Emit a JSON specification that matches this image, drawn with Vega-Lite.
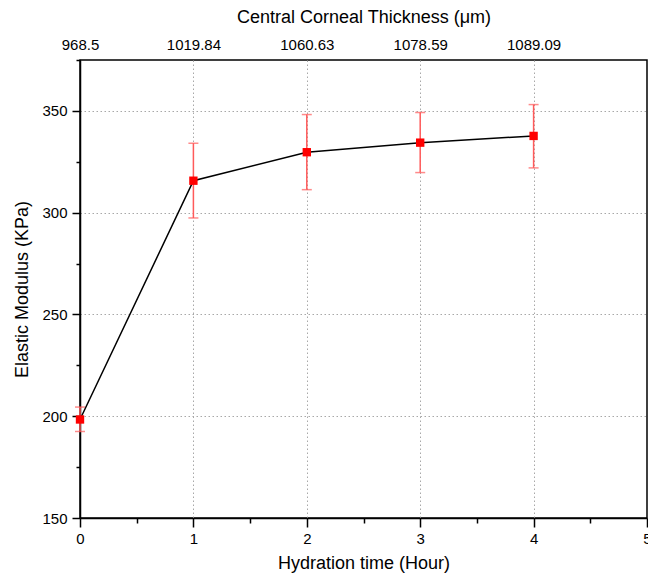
{
  "$schema": "https://vega.github.io/schema/vega-lite/v6.json",
  "width": 567,
  "height": 458,
  "autosize": "none",
  "padding": {"left": 80, "top": 60, "right": 1, "bottom": 63},
  "background": "white",
  "config": {
    "font": "Liberation Sans",
    "view": {"stroke": "black", "strokeWidth": 1.5},
    "axis": {
      "labelFont": "Liberation Sans",
      "titleFont": "Liberation Sans",
      "labelFontSize": 15,
      "titleFontSize": 18,
      "titleFontWeight": "normal",
      "labelColor": "black",
      "titleColor": "black",
      "labelFlush": false,
      "labelOverlap": false,
      "domainColor": "black",
      "domainWidth": 1.5,
      "tickColor": "black",
      "tickWidth": 1.5,
      "gridColor": "#a8a8a8",
      "gridDash": [1.5, 2.5],
      "gridWidth": 1
    }
  },
  "data": {
    "values": [
      {"hour": 0, "thickness": "968.5", "modulus": 198.4, "lo": 192.5, "hi": 204.5},
      {"hour": 1, "thickness": "1019.84", "modulus": 315.7, "lo": 297.4, "hi": 334.1},
      {"hour": 2, "thickness": "1060.63", "modulus": 329.7, "lo": 311.3, "hi": 348.2},
      {"hour": 3, "thickness": "1078.59", "modulus": 334.4, "lo": 319.7, "hi": 349.2},
      {"hour": 4, "thickness": "1089.09", "modulus": 337.7, "lo": 322.0, "hi": 353.1}
    ]
  },
  "resolve": {"axis": {"x": "independent"}},
  "layer": [
    {
      "mark": {"type": "rule", "color": "#ff5a5a", "strokeWidth": 1.5},
      "encoding": {
        "x": {
          "field": "hour", "type": "quantitative",
          "scale": {"domain": [0, 5], "nice": false},
          "axis": {
            "orient": "bottom",
            "title": "Hydration time (Hour)",
            "values": [0, 0.5, 1, 1.5, 2, 2.5, 3, 3.5, 4, 4.5, 5],
            "labelExpr": "datum.value % 1 == 0 ? format(datum.value, 'd') : ''",
            "tickSize": {"condition": {"test": "datum.value % 1 != 0", "value": 5}, "value": 9},
            "gridOpacity": {"condition": {"test": "datum.value % 1 != 0 || datum.value == 0 || datum.value == 5", "value": 0}, "value": 1},
            "labelPadding": 4,
            "titlePadding": 8
          }
        },
        "y": {
          "field": "lo", "type": "quantitative",
          "scale": {"domain": [150, 375], "nice": false, "zero": false},
          "axis": {
            "title": "Elastic Modulus (KPa)",
            "values": [150, 175, 200, 225, 250, 275, 300, 325, 350, 375],
            "labelExpr": "datum.value % 50 == 0 ? datum.label : ''",
            "tickSize": {"condition": {"test": "datum.value % 50 != 0", "value": 4}, "value": 8},
            "gridOpacity": {"condition": {"test": "datum.value % 50 != 0 || datum.value == 150", "value": 0}, "value": 1},
            "labelPadding": 5,
            "titlePadding": 10
          }
        },
        "y2": {"field": "hi"}
      }
    },
    {
      "mark": {"type": "tick", "color": "#ff5a5a", "thickness": 1.5, "size": 10, "orient": "horizontal"},
      "encoding": {
        "x": {"field": "hour", "type": "quantitative", "axis": null},
        "y": {"field": "lo", "type": "quantitative"}
      }
    },
    {
      "mark": {"type": "tick", "color": "#ff5a5a", "thickness": 1.5, "size": 10, "orient": "horizontal"},
      "encoding": {
        "x": {"field": "hour", "type": "quantitative", "axis": null},
        "y": {"field": "hi", "type": "quantitative"}
      }
    },
    {
      "mark": {"type": "line", "color": "black", "strokeWidth": 1.5},
      "encoding": {
        "x": {
          "field": "hour", "type": "quantitative",
          "axis": {
            "orient": "top",
            "title": "Central Corneal Thickness (μm)",
            "values": [0, 1, 2, 3, 4],
            "labelExpr": "['968.5','1019.84','1060.63','1078.59','1089.09'][datum.value]",
            "ticks": false,
            "grid": false,
            "domain": false,
            "labelPadding": 8,
            "titlePadding": 11
          }
        },
        "y": {"field": "modulus", "type": "quantitative"}
      }
    },
    {
      "mark": {"type": "square", "color": "red", "filled": true, "opacity": 1, "size": 70},
      "encoding": {
        "x": {"field": "hour", "type": "quantitative", "axis": null},
        "y": {"field": "modulus", "type": "quantitative"}
      }
    }
  ]
}
